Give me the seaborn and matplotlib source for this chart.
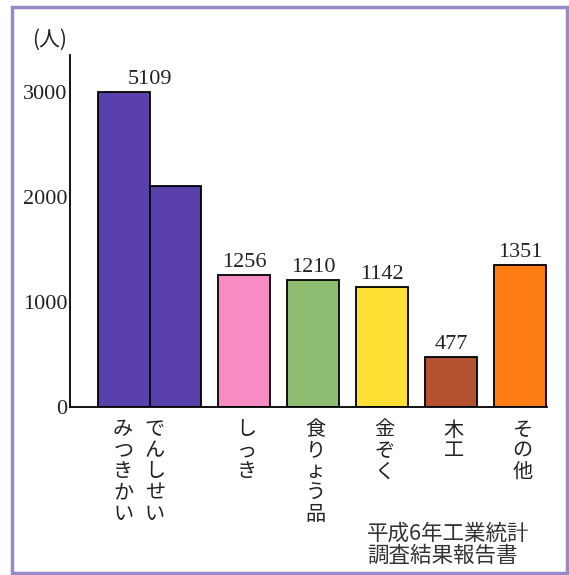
import numpy as np
import pandas as pd
import seaborn as sns
import matplotlib.pyplot as plt
from matplotlib.patches import Rectangle

# 業種別の働く人の数 (平成6年工業統計調査結果報告書)
categories = ['でんしせいみつきかい', 'しっき', '食りょう品', '金ぞく', '木工', 'その他']
workers = [5109, 1256, 1210, 1142, 477, 1351]
bar_colors = ['#5a40ad', '#f78cc4', '#8fbd72', '#fee035', '#b4512e', '#fd7c14']
y_ticks = [0, 1000, 2000, 3000]
unit_label = '(人)'
source_label = '平成6年工業統計\n調査結果報告書'
wrap_at = 3000  # a bar taller than this is folded into a second column

sns.set_style('white')
plt.rcParams['font.family'] = ['Noto Sans CJK JP', 'DejaVu Sans']
jp_font = ['Noto Sans CJK JP', 'DejaVu Sans']
num_font = 'Liberation Serif'

W, H = 569, 575
fig = plt.figure(figsize=(W / 100, H / 100), dpi=100)
ax = fig.add_axes([70 / W, 168 / H, 477 / W, 352 / H])

# build the bar segments; the first (large) category is split in two columns
bar_w = 0.75
rows = []
label_pos = []
tick_pos, tick_lab = [], []
for i, (cat, val, col) in enumerate(zip(categories, workers, bar_colors)):
    if val > wrap_at:
        c0 = 0.78
        rows.append(dict(x=c0, h=wrap_at, part=cat + '_1', color=col))
        rows.append(dict(x=c0 + bar_w, h=val - wrap_at, part=cat + '_2', color=col))
        label_pos.append((c0 + bar_w / 2, wrap_at, val))
        half = len(cat) // 2
        # vertical writing: right column first
        tick_pos += [c0 - 0.01, c0 + 0.45]
        tick_lab += ['\n'.join(cat[half:]), '\n'.join(cat[:half])]
    else:
        c = 1.52 + i
        rows.append(dict(x=c, h=val, part=cat, color=col))
        label_pos.append((c, val, val))
        tick_pos.append(c + 0.04)
        tick_lab.append('\n'.join(cat))

df = pd.DataFrame(rows)
sns.barplot(data=df, x='x', y='h', hue='part',
            palette=dict(zip(df['part'], df['color'])),
            native_scale=True, width=1.0, saturation=1, errorbar=None,
            edgecolor='black', linewidth=1.3, legend=False, ax=ax)

for xc, top, val in label_pos:
    ax.annotate(str(val), (xc, top), xytext=(0, 2), textcoords='offset points',
                ha='center', va='bottom', fontsize=16, family=num_font,
                color='#222222')

ax.set_xlim(0, 477 / 69)
ax.set_ylim(0, 3352)
ax.set_yticks(y_ticks)
ax.set_yticklabels([str(t) for t in y_ticks], fontsize=16, family=num_font,
                   color='#222222')
ax.set_xticks(tick_pos)
ax.set_xticklabels(tick_lab, fontsize=14.5, family=jp_font, linespacing=1.0,
                   va='top', color='#222222')
ax.tick_params(axis='both', length=0)
ax.tick_params(axis='y', pad=2)
ax.tick_params(axis='x', pad=9)
ax.set_xlabel('')
ax.set_ylabel('')
for side in ['top', 'right']:
    ax.spines[side].set_visible(False)
for side in ['left', 'bottom']:
    ax.spines[side].set_color('black')
    ax.spines[side].set_linewidth(1.3)

fig.text(50 / W, 1 - 40 / H, unit_label, ha='center', va='center',
         fontsize=15, family=jp_font, color='#222222')
fig.text(367 / W, 1 - 545 / H, source_label, ha='left', va='center',
         fontsize=15.5, family=jp_font, linespacing=1.0, color='#333333')

fig.add_artist(Rectangle((12 / W, 2 / H), 555 / W, 566 / H, transform=fig.transFigure,
                         fill=False, edgecolor='#9b88c9', linewidth=2.5))

fig.savefig('out.png', dpi=100, facecolor='white')
